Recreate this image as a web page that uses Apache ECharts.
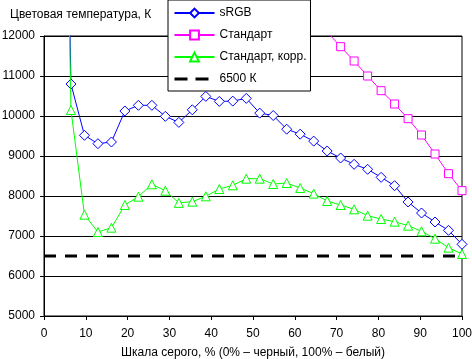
<!DOCTYPE html>
<html>
<head>
<meta charset="utf-8">
<script src="https://cdn.jsdelivr.net/npm/echarts@6/dist/echarts.min.js"></script>
<style>
html,body{margin:0;padding:0;background:#fff;}
#c{width:472px;height:359px;}
</style>
</head>
<body>
<div id="c"></div>
<script>
// Gray levels (% of scale), 31 steps of 100/31
const grayPct = [3.23, 6.45, 9.68, 12.9, 16.13, 19.35, 22.58, 25.81, 29.03, 32.26, 35.48, 38.71, 41.94, 45.16, 48.39, 51.61, 54.84, 58.06, 61.29, 64.52, 67.74, 70.97, 74.19, 77.42, 80.65, 83.87, 87.1, 90.32, 93.55, 96.77, 100];
const srgb = [29000, 10800, 9517, 9308, 9350, 10125, 10267, 10267, 9992, 9840, 10155, 10490, 10365, 10372, 10440, 10072, 10012, 9670, 9546, 9372, 9125, 8950, 8792, 8667, 8467, 8258, 7850, 7575, 7350, 7142, 6792];
const standard = [null, null, null, null, null, null, null, null, null, null, null, null, null, null, null, null, null, null, null, null, 12100, 11733, 11375, 11000, 10633, 10300, 9933, 9525, 9050, 8558, 8133];
const standardCorr = [29000, 10150, 7533, 7100, 7208, 7775, 7983, 8292, 8133, 7828, 7858, 7992, 8175, 8267, 8433, 8433, 8300, 8325, 8200, 8060, 7875, 7775, 7667, 7508, 7425, 7358, 7258, 7117, 6933, 6708, 6550];
const refX = [0, 100];
const refY = [6500, 6500];
const seriesNames = ['sRGB', 'Стандарт', 'Стандарт, корр.', '6500 К'];
const yTitle = 'Цветовая температура, К';
const xTitle = 'Шкала серого, % (0% – черный, 100% – белый)';

const pair = (xs, ys) => xs.map((x, i) => [x, ys[i]]);
const FONT = 'Liberation Sans';

const chart = echarts.init(document.getElementById('c'), null, {renderer: 'canvas'});
chart.setOption({
  animation: false,
  backgroundColor: '#fff',
  textStyle: {fontFamily: FONT},
  grid: {left: 44, right: 10, top: 36, bottom: 43, show: true, borderColor: '#000', borderWidth: 1,
         containLabel: false, outerBoundsMode: 'none'},
  graphic: [{
    type: 'text', left: 10, top: 9,
    style: {text: yTitle, font: '12px "Liberation Sans"', fill: '#000'}
  }],
  legend: {
    orient: 'vertical', left: 168, top: 0,
    padding: [7, 4, 6, 5],
    itemWidth: 40, itemHeight: 11, itemGap: 10,
    borderColor: '#000', borderWidth: 1, backgroundColor: '#fff',
    textStyle: {fontFamily: FONT, fontSize: 12, color: '#000'},
    data: [
      {name: seriesNames[0]},
      {name: seriesNames[1]},
      {name: seriesNames[2]},
      {name: seriesNames[3], itemStyle: {opacity: 0}, lineStyle: {type: [13, 8], width: 3, color: '#000'}}
    ]
  },
  xAxis: {
    type: 'value', min: 0, max: 100, interval: 10,
    name: xTitle, nameLocation: 'middle', nameGap: 31,
    nameTextStyle: {fontFamily: FONT, fontSize: 12, color: '#000'},
    axisLine: {lineStyle: {color: '#000', width: 1}},
    axisTick: {show: true, length: 4, lineStyle: {color: '#000'}},
    axisLabel: {fontFamily: FONT, fontSize: 12, color: '#000', margin: 12},
    splitLine: {show: false}
  },
  yAxis: {
    type: 'value', min: 5000, max: 12000, interval: 1000,
    axisLine: {show: true, lineStyle: {color: '#000', width: 1}},
    axisTick: {show: true, length: 4, lineStyle: {color: '#000'}},
    axisLabel: {fontFamily: FONT, fontSize: 12, color: '#000', margin: 9, formatter: v => String(v)},
    splitLine: {show: true, lineStyle: {color: '#000', width: 1}}
  },
  series: [
    {
      name: seriesNames[0], type: 'line', data: pair(grayPct, srgb),
      color: '#0000ff', lineStyle: {width: 1, color: '#0000ff'},
      symbol: 'diamond', symbolSize: 10, showAllSymbol: true,
      itemStyle: {color: '#fff', borderColor: '#0000ff', borderWidth: 1},
      z: 4
    },
    {
      name: seriesNames[1], type: 'line', data: pair(grayPct, standard),
      color: '#ff00ff', lineStyle: {width: 1, color: '#ff00ff'},
      symbol: 'rect', symbolSize: 8, showAllSymbol: true,
      itemStyle: {color: '#fff', borderColor: '#ff00ff', borderWidth: 1},
      z: 3
    },
    {
      name: seriesNames[2], type: 'line', data: pair(grayPct, standardCorr),
      color: '#00ff00', lineStyle: {width: 1, color: '#00ff00'},
      symbol: 'triangle', symbolSize: 9, showAllSymbol: true,
      itemStyle: {color: '#fff', borderColor: '#00ff00', borderWidth: 1},
      z: 5
    },
    {
      name: seriesNames[3], type: 'line', data: pair(refX, refY),
      color: '#000', lineStyle: {width: 3, color: '#000', type: [12, 9]},
      symbol: 'none',
      z: 2
    }
  ]
});
</script>
</body>
</html>
